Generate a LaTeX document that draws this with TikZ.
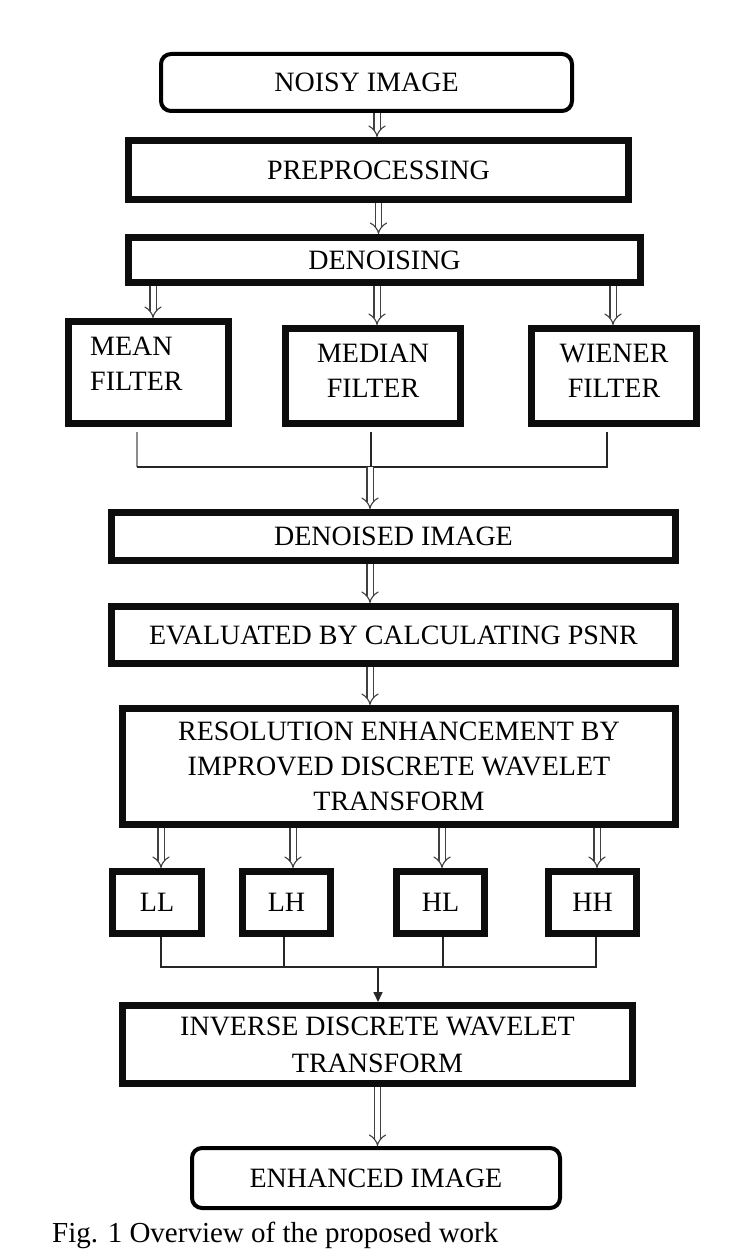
\documentclass[tikz,border=0pt]{standalone}
\usepackage{fontspec}
\setmainfont{Liberation Serif}
\usetikzlibrary{arrows.meta}
\begin{document}
\begin{tikzpicture}[x=1pt,y=-1pt,
  boxtxt/.style={font=\fontsize{28}{35}\selectfont, text=black},
  thickbox/.style={draw=black!95, line width=7pt, inner sep=0pt, boxtxt, align=center},
  roundbox/.style={draw=black, line width=4pt, rounded corners=10pt, inner sep=0pt, boxtxt},
  plaintxt/.style={inner sep=0pt, boxtxt},
  dbl/.style={draw=black!75, line width=1.1pt, double=white, double distance=5pt, -{Implies[scale=1.3]}},
  conn/.style={draw=black!85, line width=1.6pt},
  single/.style={conn, -{Triangle[length=10pt,width=9pt]}}
]
\useasboundingbox (0,0) rectangle (750,1252);
\fill[white] (0,0) rectangle (750,1252);

% boxes
\node[roundbox, minimum width=411pt, minimum height=57pt] (noisy) at (366.5,82.5) {NOISY IMAGE};
\node[thickbox, minimum width=500pt, minimum height=59pt] (pre) at (378.5,170) {PREPROCESSING};
\node[thickbox, minimum width=512pt, minimum height=45pt] (den) at (384.5,260) {DENOISING};

\node[thickbox, minimum width=160pt, minimum height=102pt] (mean) at (148.5,372.5) {};
\node[thickbox, minimum width=175pt, minimum height=95pt] (median) at (373,376) {};
\node[thickbox, minimum width=165pt, minimum height=95pt] (wiener) at (614,376) {};
\node[plaintxt, align=left, anchor=north west] (meantxt) at (90,337) {MEAN\\FILTER};
\node[plaintxt, align=center, anchor=north] (mediantxt) at (373,344) {MEDIAN\\FILTER};
\node[plaintxt, align=center, anchor=north] (wienertxt) at (614,344) {WIENER\\FILTER};

\node[thickbox, minimum width=564pt, minimum height=48pt] (dnd) at (393.5,536.5) {DENOISED IMAGE};
\node[thickbox, minimum width=564pt, minimum height=57pt] (eva) at (393.5,635) {EVALUATED BY CALCULATING PSNR};
\node[thickbox, minimum width=553pt, minimum height=116pt] (res) at (399,766.5) {RESOLUTION ENHANCEMENT BY\\IMPROVED DISCRETE WAVELET\\TRANSFORM};

\node[thickbox, minimum width=89pt, minimum height=62pt] (ll) at (157,902.5) {LL};
\node[thickbox, minimum width=88pt, minimum height=62pt] (lh) at (286.5,902.5) {LH};
\node[thickbox, minimum width=88pt, minimum height=62pt] (hl) at (440.5,902.5) {HL};
\node[thickbox, minimum width=88pt, minimum height=62pt] (hh) at (592.5,902.5) {HH};

\node[thickbox, minimum width=510pt, minimum height=78pt, font=\fontsize{28}{37}\selectfont] (inv) at (377.5,1044.5) {INVERSE DISCRETE WAVELET\\TRANSFORM};
\node[roundbox, minimum width=368pt, minimum height=60pt] (enh) at (376,1178) {ENHANCED IMAGE};

\node[inner sep=0pt, anchor=base west, font=\fontsize{29}{34}\selectfont] (cap) at (52,1242.5) {Fig. 1 Overview of the proposed work};

% double arrows
\draw[dbl] ([xshift=10.5pt]noisy.south) -- ([xshift=-1.5pt]pre.north);
\draw[dbl] (pre.south) -- (pre.south |- den.north);
\path ([xshift=4.5pt]mean.north) coordinate (tmean)
      ([xshift=4pt]median.north) coordinate (tmedian)
      ([xshift=-1pt]wiener.north) coordinate (twiener);
\draw[dbl] (tmean |- den.south) -- (tmean);
\draw[dbl] (tmedian |- den.south) -- (tmedian);
\draw[dbl] (twiener |- den.south) -- (twiener);

% filter outputs
\coordinate (j1) at (370,467);
\path ([xshift=-11.5pt,yshift=-5pt]mean.south) coordinate (m0)
      ([xshift=-2pt,yshift=-5pt]median.south) coordinate (d0)
      ([xshift=-7pt,yshift=-5pt]wiener.south) coordinate (w0);
\draw[conn, draw=black!45] (m0) -- (m0 |- j1);
\draw[conn] (m0 |- j1) -- (w0 |- j1) -- (w0);
\draw[conn] (d0) -- (d0 |- j1);
\draw[dbl] (j1) -- (j1 |- dnd.north);

\draw[dbl] (dnd.south -| j1) -- (eva.north -| j1);
\draw[dbl] (eva.south -| j1) -- (res.north -| j1);

% to sub-bands
\path ([xshift=4pt]ll.north) coordinate (tll)
      ([xshift=6.5pt]lh.north) coordinate (tlh)
      ([xshift=1.5pt]hl.north) coordinate (thl)
      ([xshift=4.5pt]hh.north) coordinate (thh);
\draw[dbl] (tll |- res.south) -- (tll);
\draw[dbl] (tlh |- res.south) -- (tlh);
\draw[dbl] (thl |- res.south) -- (thl);
\draw[dbl] (thh |- res.south) -- (thh);

% sub-band outputs
\coordinate (j2) at (378,967);
\path ([xshift=4pt]ll.south) coordinate (l1)
      ([xshift=-2.5pt]lh.south) coordinate (l2)
      ([xshift=2.5pt]hl.south) coordinate (l3)
      ([xshift=3.5pt]hh.south) coordinate (l4);
\draw[conn] (l1) -- (l1 |- j2) -- (l4 |- j2) -- (l4);
\draw[conn] (l2) -- (l2 |- j2);
\draw[conn] (l3) -- (l3 |- j2);
\draw[single] (j2) -- (j2 |- inv.north);

\draw[dbl] (inv.south) -- (inv.south |- enh.north);
\end{tikzpicture}
\end{document}
